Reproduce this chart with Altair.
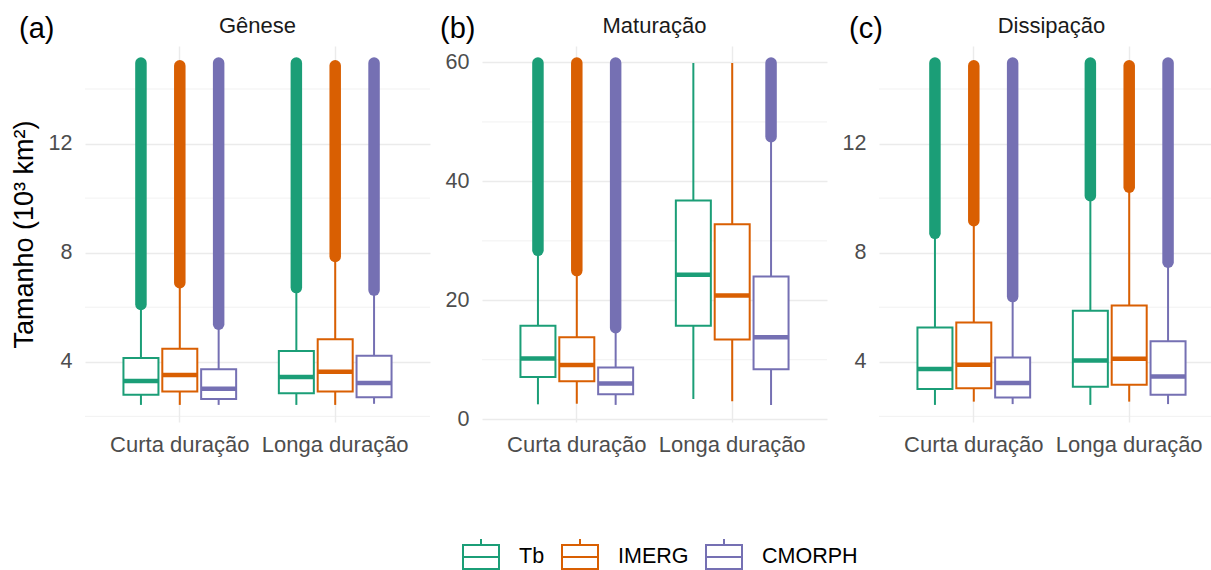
import altair as alt
import pandas as pd

FONTE = "Liberation Sans"

fases = ["Gênese", "Maturação", "Dissipação"]
rotulos = ["(a)", "(b)", "(c)"]
duracoes = ["Curta duração", "Longa duração"]
produtos = ["Tb", "IMERG", "CMORPH"]
cores = ["#1B9E77", "#D95F02", "#7570B3"]

# Estatísticas dos boxplots (10³ km²).
# Ordem: Curta (Tb, IMERG, CMORPH), Longa (Tb, IMERG, CMORPH)
genese_wmin = [2.42, 2.42, 2.42, 2.42, 2.42, 2.46]
genese_q1 = [2.79, 2.91, 2.64, 2.85, 2.91, 2.70]
genese_med = [3.30, 3.52, 3.01, 3.44, 3.64, 3.22]
genese_q3 = [4.14, 4.48, 3.73, 4.40, 4.83, 4.22]
genese_wmax = [6.05, 6.85, 5.30, 6.65, 7.80, 6.55]
genese_omin = [6.10, 6.90, 5.38, 6.72, 7.86, 6.63]
genese_omax = [14.95, 14.85, 14.95, 14.95, 14.85, 14.95]

matur_wmin = [2.5, 2.6, 2.4, 3.4, 3.0, 2.4]
matur_q1 = [7.1, 6.4, 4.2, 15.7, 13.4, 8.4]
matur_med = [10.2, 9.1, 6.0, 24.3, 20.8, 13.8]
matur_q3 = [15.7, 13.8, 8.7, 36.8, 32.8, 24.0]
matur_wmax = [28.2, 24.8, 15.2, 59.9, 59.9, 47.3]
matur_omin = [28.4, 25.0, 15.4, None, None, 47.5]
matur_omax = [59.9, 59.9, 59.9, None, None, 59.9]

dissip_wmin = [2.42, 2.54, 2.45, 2.42, 2.54, 2.45]
dissip_q1 = [3.00, 3.03, 2.69, 3.09, 3.16, 2.79]
dissip_med = [3.74, 3.89, 3.22, 4.05, 4.11, 3.46]
dissip_q3 = [5.26, 5.44, 4.16, 5.87, 6.06, 4.75]
dissip_wmax = [8.60, 9.10, 6.35, 10.05, 10.35, 7.60]
dissip_omin = [8.71, 9.17, 6.39, 10.09, 10.40, 7.65]
dissip_omax = [14.95, 14.85, 14.95, 14.95, 14.85, 14.95]

# marcas do eixo y: principais (com rótulo) e secundárias (só grade)
y_principais_ac = [4, 8, 12]
y_secundarias_ac = [2, 6, 10, 14]
y_principais_b = [0, 20, 40, 60]
y_secundarias_b = [10, 30, 50]

# símbolo da legenda: caixa com mediana e bigodes
SIMBOLO = "M-1,-0.667H1V0.667H-1Z M-1,0H1 M0,-0.667V-1 M0,0.667V1"

CINZA_GRADE = "#EBEBEB"
LARGURA = 345
ALTURA = 376
LARG_CAIXA = 35


def tabela(wmin, q1, med, q3, wmax, omin, omax):
    linhas = []
    k = 0
    for d in duracoes:
        for i, p in enumerate(produtos):
            linhas.append(dict(duracao=d, produto=p, cor=cores[i],
                               wmin=wmin[k], q1=q1[k], med=med[k], q3=q3[k],
                               wmax=wmax[k], omin=omin[k], omax=omax[k]))
            k += 1
    return pd.DataFrame(linhas)


legenda = alt.Legend(
    orient="none", legendX=377, legendY=492, direction="horizontal",
    title=None, symbolType=SIMBOLO, symbolSize=1296, symbolStrokeWidth=2,
    symbolFillColor="white", labelFontSize=21.5, labelColor="black",
    labelFont=FONTE, labelOffset=19, columnPadding=13, padding=0,
)


def painel(df, fase, rotulo, tag_x, principais, secundarias, titulo_y):
    lo = df["wmin"].min()
    hi = max(df["wmax"].max(), df["omax"].max())
    folga = 0.05 * (hi - lo)
    escala_y = alt.Scale(domain=[lo - folga, hi + folga], nice=False, zero=False)

    eixo_y = alt.Axis(
        values=principais, title=titulo_y, labelFontSize=21.5,
        labelColor="#4D4D4D", labelFont=FONTE, labelPadding=13,
        ticks=False, domain=False, grid=True, gridColor=CINZA_GRADE,
        gridWidth=1.4, titleFontSize=27, titleFont=FONTE,
        titleColor="black", titleFontWeight="normal", titlePadding=10,
    )

    def Y(campo):
        return alt.Y(f"{campo}:Q", scale=escala_y, axis=eixo_y, title=titulo_y)

    x = alt.X(
        "duracao:N", sort=duracoes,
        scale=alt.Scale(paddingInner=0, paddingOuter=0.11),
        axis=alt.Axis(title=None, labelAngle=0, labelFontSize=22,
                      labelColor="#4D4D4D", labelFont=FONTE, labelPadding=12,
                      ticks=False, domain=False, grid=True,
                      gridColor=CINZA_GRADE, gridWidth=1.4, bandPosition=0.5),
    )
    xo = alt.XOffset("produto:N", sort=produtos,
                     scale=alt.Scale(paddingInner=0, paddingOuter=0.5))
    # a legenda sai do traço dos bigodes (escala stroke), com interior branco;
    # as demais camadas usam a cor direto da coluna "cor"
    traco = alt.Stroke("produto:N", sort=produtos,
                       scale=alt.Scale(domain=produtos, range=cores),
                       legend=legenda)
    cor = alt.Color("cor:N", scale=None)

    base = alt.Chart(df)

    grade_sec = alt.Chart(pd.DataFrame({"v": secundarias})).mark_rule(
        color=CINZA_GRADE, strokeWidth=0.7
    ).encode(y=Y("v"))

    bigodes = base.mark_rule(strokeWidth=2).encode(
        x=x, xOffset=xo, y=Y("wmin"), y2="wmax:Q", stroke=traco)

    outliers = base.transform_filter("isValid(datum.omin)").mark_rule(
        strokeWidth=11.5, strokeCap="round"
    ).encode(x=x, xOffset=xo, y=Y("omin"), y2="omax:Q", color=cor)

    fundo = base.mark_bar(fill="white", width=LARG_CAIXA).encode(
        x=x, xOffset=xo, y=Y("q1"), y2="q3:Q")

    caixa = base.mark_bar(filled=False, strokeWidth=2, width=LARG_CAIXA).encode(
        x=x, xOffset=xo, y=Y("q1"), y2="q3:Q", color=cor)

    mediana = base.mark_tick(thickness=4.5, size=LARG_CAIXA, opacity=1).encode(
        x=x, xOffset=xo, y=Y("med"), color=cor)

    rotulo_df = pd.DataFrame({"t": [rotulo], "fase": [fase]})
    tag = alt.Chart(rotulo_df).mark_text(
        font=FONTE, fontSize=29, align="left", baseline="alphabetic",
        color="black"
    ).encode(text="t:N", x=alt.value(tag_x), y=alt.value(-8.5))

    titulo = alt.Chart(rotulo_df).mark_text(
        font=FONTE, fontSize=22, align="center", baseline="alphabetic",
        color="#1A1A1A"
    ).encode(text="fase:N", x=alt.value(LARGURA / 2), y=alt.value(-13))

    return alt.layer(grade_sec, bigodes, outliers, fundo, caixa, mediana,
                     tag, titulo).properties(width=LARGURA, height=ALTURA)


df_a = tabela(genese_wmin, genese_q1, genese_med, genese_q3, genese_wmax,
              genese_omin, genese_omax)
df_b = tabela(matur_wmin, matur_q1, matur_med, matur_q3, matur_wmax,
              matur_omin, matur_omax)
df_c = tabela(dissip_wmin, dissip_q1, dissip_med, dissip_q3, dissip_wmax,
              dissip_omin, dissip_omax)

pa = painel(df_a, fases[0], rotulos[0], -66, y_principais_ac, y_secundarias_ac,
            "Tamanho (10³ km²)")
pb = painel(df_b, fases[1], rotulos[1], -42, y_principais_b, y_secundarias_b, None)
pc = painel(df_c, fases[2], rotulos[2], -30, y_principais_ac, y_secundarias_ac, None)

chart = alt.hconcat(pa, pb, pc, spacing=52, bounds="flush").resolve_scale(
    x="independent", y="independent", stroke="shared"
).properties(
    autosize=alt.AutoSizeParams(type="none"),
    padding={"left": 85, "top": 46, "right": 1211 - 85, "bottom": 570 - 46},
    background="white",
).configure(font=FONTE, view=alt.ViewConfig(stroke="transparent"))

chart.save("out.html", embed_options={"renderer": "svg", "actions": False})
